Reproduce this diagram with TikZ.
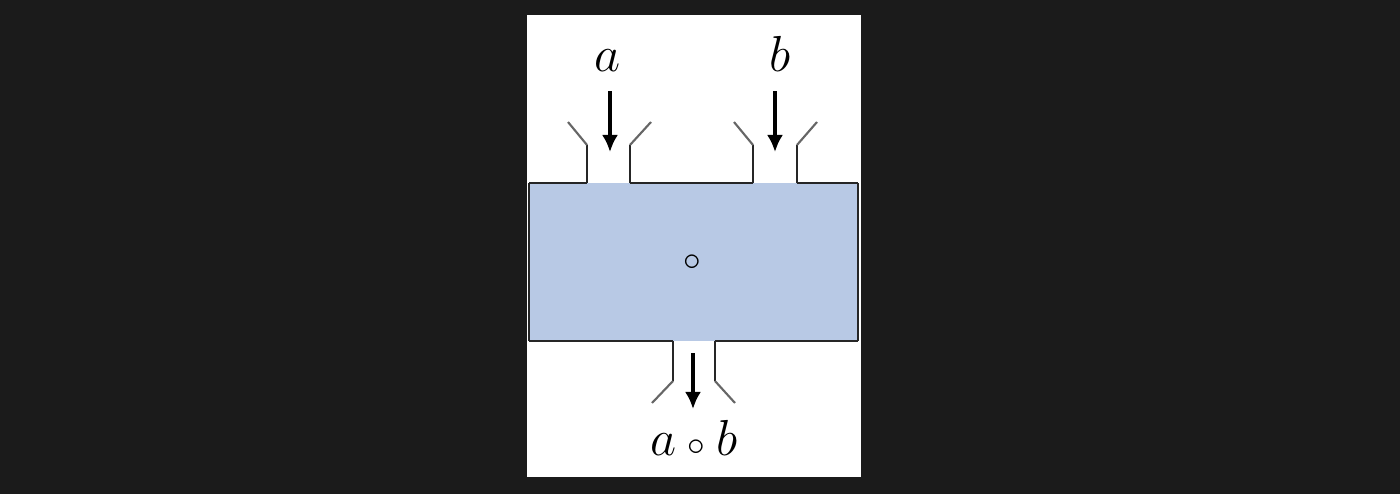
\documentclass[tikz,border=0pt]{standalone}
\usepackage{amsmath,amssymb}
\usepackage{xcolor}
\usetikzlibrary{arrows.meta}
\definecolor{bgdark}{HTML}{1B1B1B}
\definecolor{tankblue}{HTML}{B8C9E5}

\begin{document}
\begin{tikzpicture}[
  x=0.01cm, y=-0.01cm,
  lbl/.style={inner sep=0pt, anchor=base, font=\fontsize{14}{16}\selectfont},
  wall/.style={draw=black!85, line width=0.6pt},
  lip/.style={draw=black!60, line width=0.6pt},
  flow/.style={-{Latex[length=1.7mm,width=1.6mm]}, line width=0.9pt}
]
  \useasboundingbox (0,0) rectangle (1400,494);
  \fill[bgdark] (0,0) rectangle (1400,494);
  \fill[white] (527,15) rectangle (861,477);
  % tank
  \fill[tankblue] (529,183) rectangle (858,341);
  \draw[wall] (529,183) -- (529,341) (858,183) -- (858,341);
  \draw[wall] (529,183) -- (587,183) (630,183) -- (753,183) (797,183) -- (858,183);
  \draw[wall] (529,341) -- (673,341) (715,341) -- (858,341);
  % inlets and outlet
  \draw[wall] (587,183) -- (587,145) (630,183) -- (630,145);
  \draw[lip] (587,145) -- (568,122) (630,145) -- (651,122);
  \draw[wall] (753,183) -- (753,145) (797,183) -- (797,145);
  \draw[lip] (753,145) -- (734,122) (797,145) -- (817,122);
  \draw[wall] (673,341) -- (673,381) (715,341) -- (715,381);
  \draw[lip] (673,381) -- (652,403) (715,381) -- (735,403);
  % labels
  \node[lbl] (la) at (608,71) {$a$};
  \node[lbl] (lb) at (780,71) {$b$};
  \node[lbl] (lab) at (694,455) {$a\mathbin{\scriptstyle\circ}b$};
  \node[inner sep=0pt, font=\fontsize{10}{12}\selectfont] (op) at (692,263) {$\circ$};
  % flows
  \coordinate (ina) at (610,152);
  \coordinate (inb) at (775,152);
  \coordinate (outs) at (693,353);
  \coordinate (oute) at (693,409);
  \draw[flow] (610,91) -- (ina);
  \draw[flow] (775,91) -- (inb);
  \draw[flow] (outs) -- (oute);
\end{tikzpicture}
\end{document}
